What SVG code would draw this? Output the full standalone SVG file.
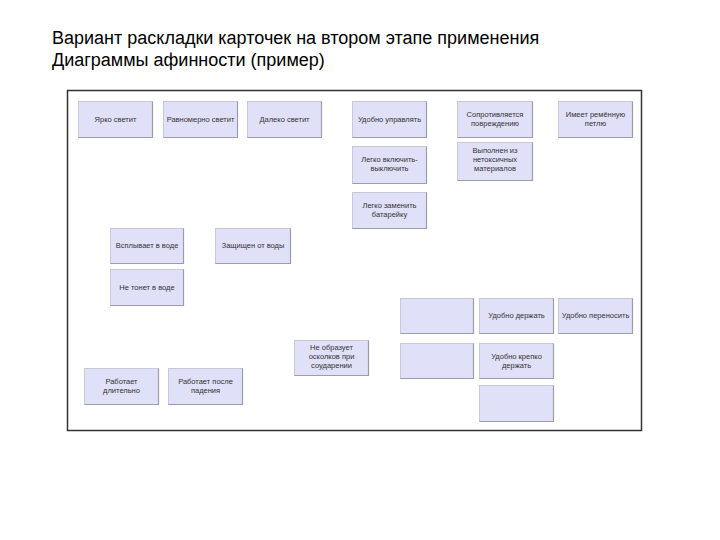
<svg xmlns="http://www.w3.org/2000/svg" width="720" height="540" viewBox="0 0 720 540">
<style>
.title{font-family:"Liberation Sans",Arial,sans-serif;font-size:18px;fill:#000}
.card rect.b{fill:#E0E0F8;stroke:#C9C9D6;stroke-width:1}
.card path.s{fill:none;stroke:#9C9CAA;stroke-width:1.2}
.card text{font-family:"Liberation Sans",Arial,sans-serif;font-size:7.5px;fill:#333;text-anchor:middle}
.frame{fill:#fff;stroke:#333;stroke-width:1.5}
</style>
<rect width="720" height="540" fill="#fff"/>
<text class="title" x="52" y="44">Вариант раскладки карточек на втором этапе применения</text>
<text class="title" x="52" y="66">Диаграммы афинности (пример)</text>
<rect class="frame" x="67.5" y="90.5" width="574" height="340"/>
<g id="connectors"/>
<g id="n1" class="card"><rect class="b" x="78.5" y="101.5" width="74" height="36"/><path class="s" d="M78.5 137.5H152.5V101.5"/><text x="115.5" y="122">Ярко светит</text></g>
<g id="n2" class="card"><rect class="b" x="163.5" y="101.5" width="74" height="36"/><path class="s" d="M163.5 137.5H237.5V101.5"/><text x="200.5" y="122">Равномерно светит</text></g>
<g id="n3" class="card"><rect class="b" x="247.5" y="101.5" width="74" height="36"/><path class="s" d="M247.5 137.5H321.5V101.5"/><text x="284.5" y="122">Далеко светит</text></g>
<g id="n4" class="card"><rect class="b" x="352.5" y="101.5" width="74" height="36"/><path class="s" d="M352.5 137.5H426.5V101.5"/><text x="389.5" y="122">Удобно управлять</text></g>
<g id="n5" class="card"><rect class="b" x="457.5" y="101.5" width="75" height="36"/><path class="s" d="M457.5 137.5H532.5V101.5"/><text x="495" y="117">Сопротивляется</text><text x="495" y="126">повреждению</text></g>
<g id="n6" class="card"><rect class="b" x="558.5" y="101.5" width="74" height="36"/><path class="s" d="M558.5 137.5H632.5V101.5"/><text x="595.5" y="117">Имеет ремённую</text><text x="595.5" y="126">петлю</text></g>
<g id="n7" class="card"><rect class="b" x="352.5" y="146.5" width="74" height="37"/><path class="s" d="M352.5 183.5H426.5V146.5"/><text x="389.5" y="162">Легко включить-</text><text x="389.5" y="171">выключить</text></g>
<g id="n8" class="card"><rect class="b" x="457.5" y="142.5" width="75" height="38"/><path class="s" d="M457.5 180.5H532.5V142.5"/><text x="495" y="153">Выполнен из</text><text x="495" y="162">нетоксичных</text><text x="495" y="171">материалов</text></g>
<g id="n9" class="card"><rect class="b" x="352.5" y="192.5" width="74" height="36"/><path class="s" d="M352.5 228.5H426.5V192.5"/><text x="389.5" y="208">Легко заменить</text><text x="389.5" y="217">батарейку</text></g>
<g id="n10" class="card"><rect class="b" x="110.5" y="228.5" width="73" height="35"/><path class="s" d="M110.5 263.5H183.5V228.5"/><text x="147" y="248">Всплывает в воде</text></g>
<g id="n11" class="card"><rect class="b" x="215.5" y="228.5" width="75" height="35"/><path class="s" d="M215.5 263.5H290.5V228.5"/><text x="253" y="248">Защищен от воды</text></g>
<g id="n12" class="card"><rect class="b" x="110.5" y="269.5" width="73" height="36"/><path class="s" d="M110.5 305.5H183.5V269.5"/><text x="147" y="290">Не тонет в воде</text></g>
<g id="n13" class="card"><rect class="b" x="400.5" y="298.5" width="73" height="35"/><path class="s" d="M400.5 333.5H473.5V298.5"/></g>
<g id="n14" class="card"><rect class="b" x="479.5" y="298.5" width="74" height="35"/><path class="s" d="M479.5 333.5H553.5V298.5"/><text x="516.5" y="318">Удобно держать</text></g>
<g id="n15" class="card"><rect class="b" x="558.5" y="298.5" width="74" height="35"/><path class="s" d="M558.5 333.5H632.5V298.5"/><text x="595.5" y="318">Удобно переносить</text></g>
<g id="n16" class="card"><rect class="b" x="400.5" y="343.5" width="73" height="35"/><path class="s" d="M400.5 378.5H473.5V343.5"/></g>
<g id="n17" class="card"><rect class="b" x="479.5" y="343.5" width="74" height="35"/><path class="s" d="M479.5 378.5H553.5V343.5"/><text x="516.5" y="359">Удобно крепко</text><text x="516.5" y="368">держать</text></g>
<g id="n18" class="card"><rect class="b" x="479.5" y="385.5" width="74" height="36"/><path class="s" d="M479.5 421.5H553.5V385.5"/></g>
<g id="n19" class="card"><rect class="b" x="294.5" y="340.5" width="74" height="35"/><path class="s" d="M294.5 375.5H368.5V340.5"/><text x="331.5" y="350">Не образует</text><text x="331.5" y="359">осколков при</text><text x="331.5" y="368">соударении</text></g>
<g id="n20" class="card"><rect class="b" x="84.5" y="368.5" width="74" height="36"/><path class="s" d="M84.5 404.5H158.5V368.5"/><text x="121.5" y="384">Работает</text><text x="121.5" y="393">длительно</text></g>
<g id="n21" class="card"><rect class="b" x="168.5" y="368.5" width="74" height="36"/><path class="s" d="M168.5 404.5H242.5V368.5"/><text x="205.5" y="384">Работает после</text><text x="205.5" y="393">падения</text></g>
</svg>
